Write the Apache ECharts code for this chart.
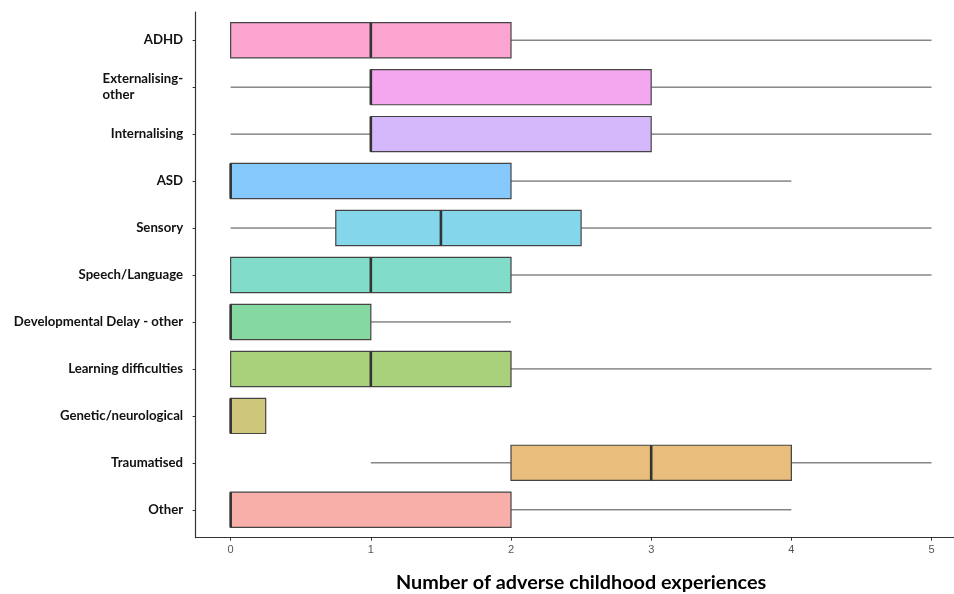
<!DOCTYPE html>
<html>
<head>
<meta charset="utf-8">
<script src="https://cdn.jsdelivr.net/npm/echarts@6/dist/echarts.min.js"></script>
<style>
  html, body { margin: 0; padding: 0; background: #ffffff; }
  #chart { width: 954px; height: 594px; }
</style>
</head>
<body>
<div id="chart"></div>
<script>
// Diagnostic groups, top to bottom
const categories = [
  'ADHD',
  'Externalising-\nother',
  'Internalising',
  'ASD',
  'Sensory',
  'Speech/Language',
  'Developmental Delay - other',
  'Learning difficulties',
  'Genetic/neurological',
  'Traumatised',
  'Other'
];

// Five-number summaries of adverse childhood experiences per group
const whiskerLow  = [0, 0, 0, 0, 0,    0, 0, 0, 0,    1, 0];
const quartile1   = [0, 1, 1, 0, 0.75, 0, 0, 0, 0,    2, 0];
const medians     = [1, 1, 1, 0, 1.5,  1, 0, 1, 0,    3, 0];
const quartile3   = [2, 3, 3, 2, 2.5,  2, 1, 2, 0.25, 4, 2];
const whiskerHigh = [5, 5, 5, 4, 5,    5, 2, 5, 0.25, 5, 4];

const xTicks = [0, 1, 2, 3, 4, 5];

const boxColors = [
  '#FCA5D1', '#F4A7EF', '#D4B8FB', '#84C8FC', '#84D6EB', '#82DCCA',
  '#85D9A0', '#A9D17B', '#CEC67A', '#E9BD7C', '#F9AFA9'
];

const boxData = categories.map((c, i) => [
  i, whiskerLow[i], quartile1[i], medians[i], quartile3[i], whiskerHigh[i]
]);

function renderBox(params, api) {
  const cat = api.value(0);
  const lo = api.coord([api.value(1), cat]);
  const q1 = api.coord([api.value(2), cat]);
  const md = api.coord([api.value(3), cat]);
  const q3 = api.coord([api.value(4), cat]);
  const hi = api.coord([api.value(5), cat]);
  const h = api.size([0, 1])[1] * 0.75;
  const y = md[1];
  const whisker = { stroke: '#4a4a4a', lineWidth: 1, fill: null };
  return {
    type: 'group',
    children: [
      { type: 'line', shape: { x1: lo[0], y1: y, x2: q1[0], y2: y }, style: whisker },
      { type: 'line', shape: { x1: q3[0], y1: y, x2: hi[0], y2: y }, style: whisker },
      {
        type: 'rect',
        shape: { x: q1[0], y: y - h / 2, width: q3[0] - q1[0], height: h },
        style: { fill: boxColors[params.dataIndex], stroke: '#444444', lineWidth: 1.2 }
      },
      {
        type: 'line',
        shape: { x1: md[0], y1: y - h / 2, x2: md[0], y2: y + h / 2 },
        style: { stroke: '#333333', lineWidth: 2.6 }
      }
    ]
  };
}

const labelFont = {
  color: '#111111',
  fontSize: 13.2,
  fontWeight: 'bold',
  fontFamily: 'Lato, sans-serif',
  lineHeight: 16
};

const chart = echarts.init(document.getElementById('chart'), null, { renderer: 'canvas' });

chart.setOption({
  backgroundColor: '#ffffff',
  animation: false,
  grid: [
    // panel holding the boxes (x padded by a quarter unit on each side)
    { left: 195.6, width: 771, top: 16.7, height: 516.6, outerBoundsMode: 'none', containLabel: false },
    // outer panel frame (axis lines only)
    { left: 195.6, width: 771, top: 12, height: 525.7, outerBoundsMode: 'none', containLabel: false }
  ],
  xAxis: [
    {
      type: 'value',
      gridIndex: 0,
      min: -0.25,
      max: 5.25,
      offset: 4.4,
      axisLine: { show: false },
      axisTick: {
        show: true,
        customValues: xTicks,
        length: 3,
        lineStyle: { color: '#333333', width: 1 }
      },
      axisLabel: {
        customValues: xTicks,
        margin: 7,
        color: '#555555',
        fontSize: 11,
        fontFamily: 'Liberation Sans, Arial, sans-serif'
      },
      splitLine: { show: false },
      name: 'Number of adverse childhood experiences',
      nameLocation: 'middle',
      nameGap: 35,
      nameTextStyle: {
        color: '#000000',
        fontSize: 19.8,
        fontWeight: 'bold',
        fontFamily: 'Lato, sans-serif'
      }
    },
    {
      type: 'value',
      gridIndex: 1,
      min: -0.25,
      max: 5.25,
      axisLine: { show: true, onZero: false, lineStyle: { color: '#333333', width: 1.2 } },
      axisTick: { show: false },
      axisLabel: { show: false },
      splitLine: { show: false }
    }
  ],
  yAxis: [
    {
      type: 'category',
      gridIndex: 0,
      data: categories,
      inverse: true,
      axisLine: { show: false, onZero: false },
      axisTick: { show: true, alignWithLabel: true, length: 3, lineStyle: { color: '#333333', width: 1 } },
      axisLabel: Object.assign({
        margin: 12.5,
        formatter: v => v.indexOf('\n') >= 0
          ? v.split('\n').map(s => '{l|' + s + '}').join('\n')
          : v,
        rich: { l: Object.assign({ align: 'left' }, labelFont) }
      }, labelFont),
      splitLine: { show: false }
    },
    {
      type: 'value',
      gridIndex: 1,
      min: 0,
      max: 1,
      axisLine: { show: true, onZero: false, lineStyle: { color: '#333333', width: 1.2 } },
      axisTick: { show: false },
      axisLabel: { show: false },
      splitLine: { show: false }
    }
  ],
  series: [
    {
      type: 'custom',
      xAxisIndex: 0,
      yAxisIndex: 0,
      renderItem: renderBox,
      encode: { x: [1, 2, 3, 4, 5], y: 0 },
      data: boxData,
      clip: false
    }
  ]
});
</script>
</body>
</html>
